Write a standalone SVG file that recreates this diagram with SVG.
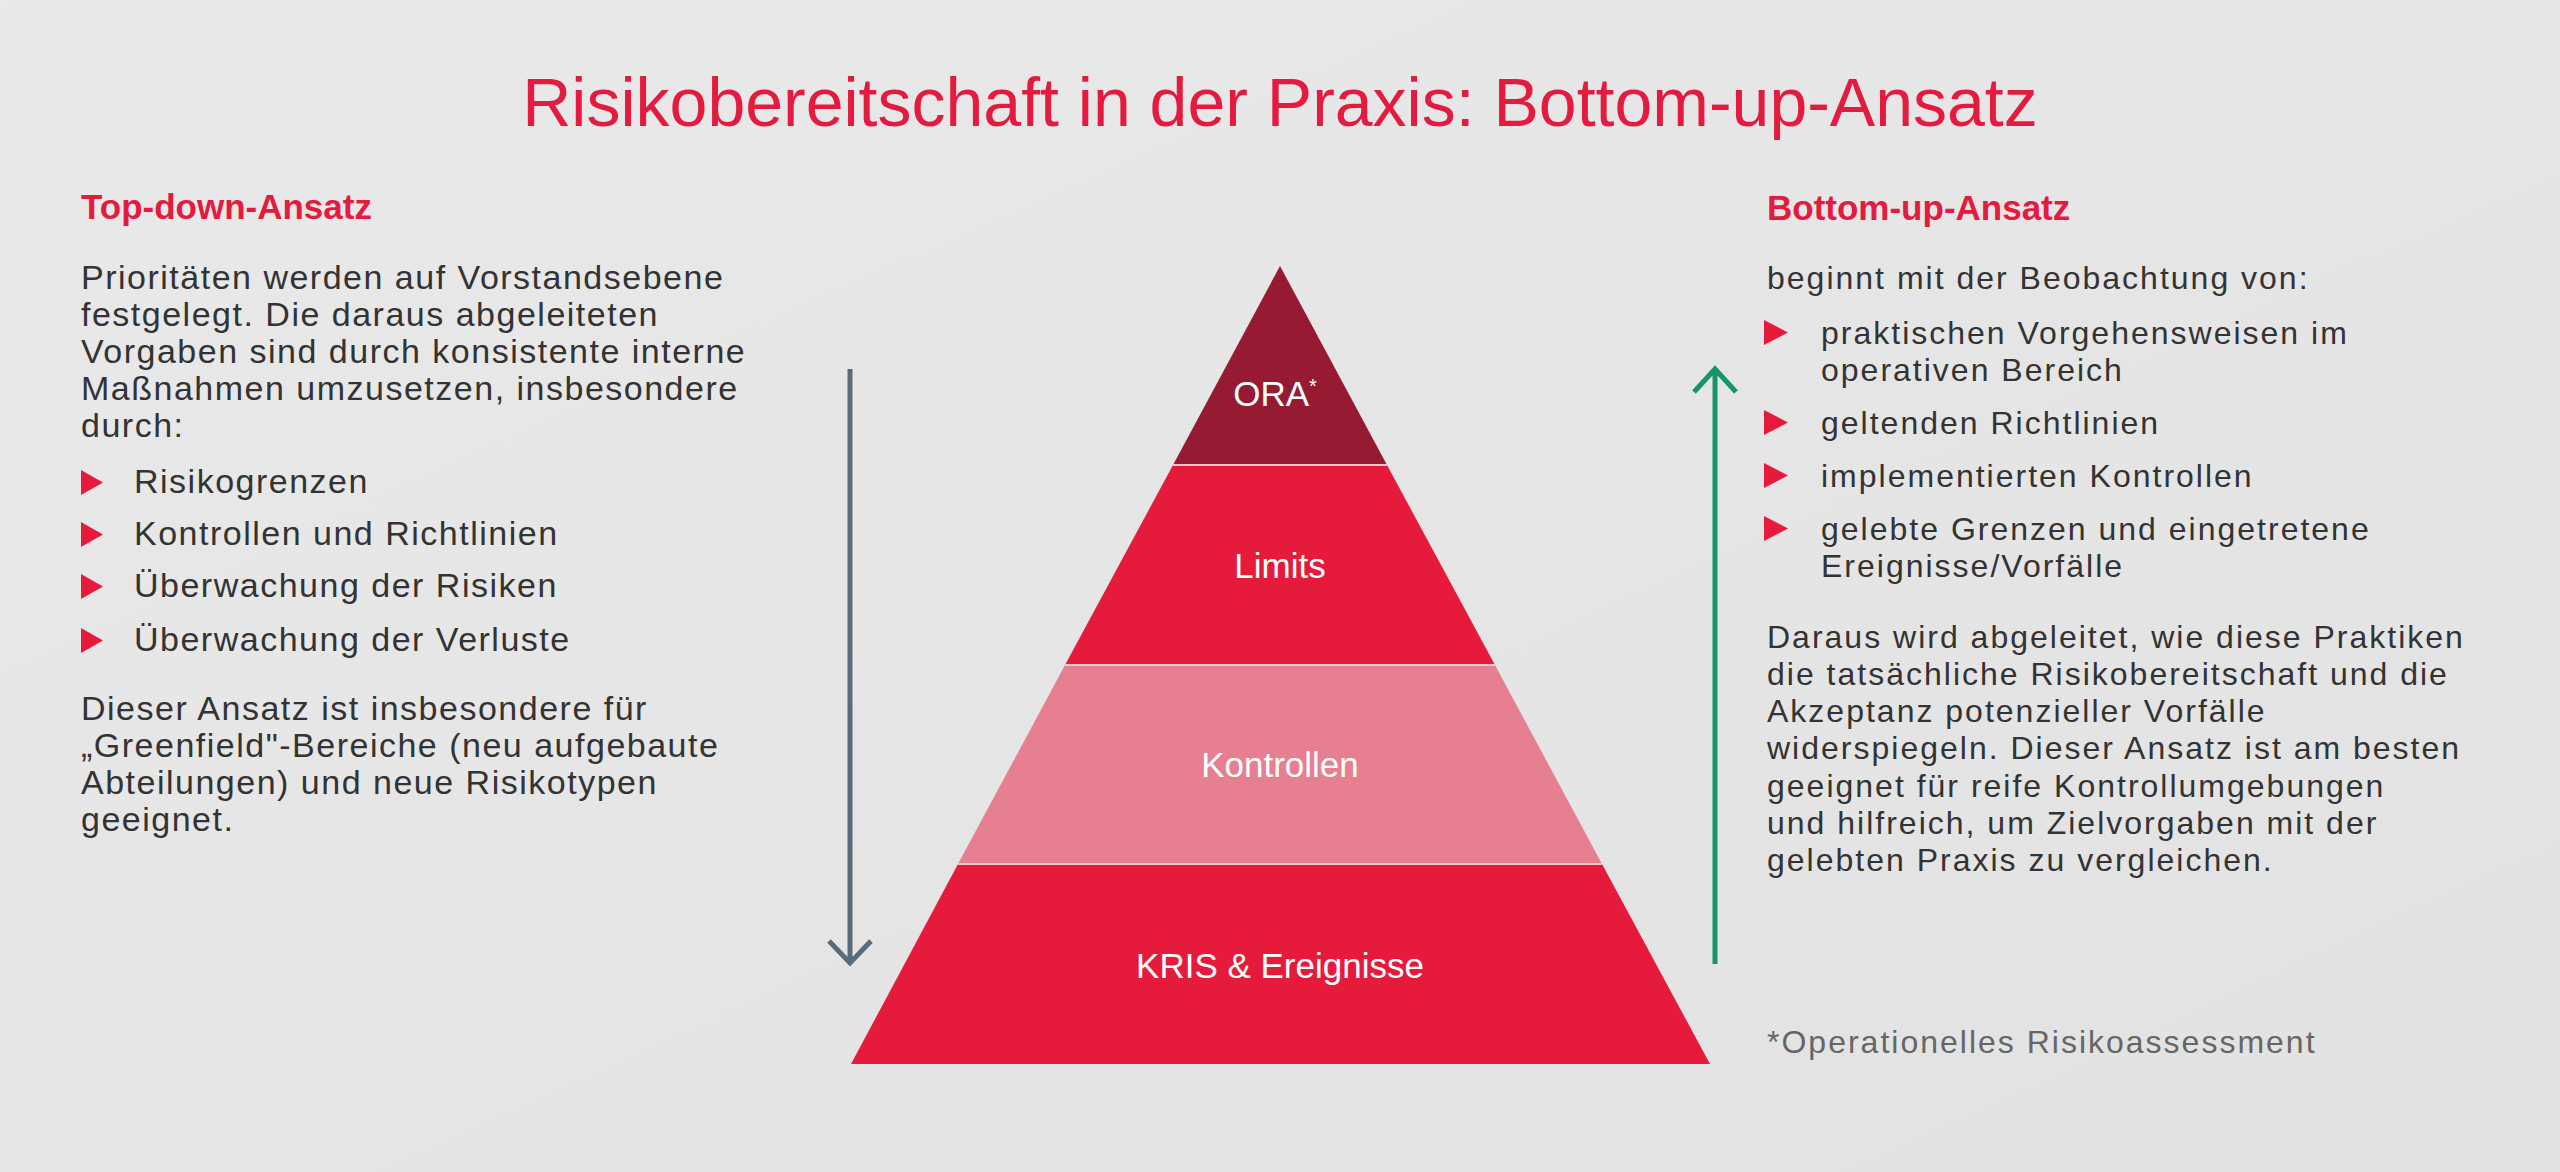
<svg xmlns="http://www.w3.org/2000/svg" width="2560" height="1172" viewBox="0 0 2560 1172">
<defs>
<linearGradient id="bg" x1="0" y1="0" x2="1" y2="1"><stop offset="0" stop-color="#e9e9e9"/><stop offset="1" stop-color="#e2e2e3"/></linearGradient>
<style>
.t{font-family:"Liberation Sans",Arial,sans-serif;fill:#333333;font-size:32px}
.l{font-size:34px;letter-spacing:1.5px}
.r{letter-spacing:2px}
.h{font-family:"Liberation Sans",Arial,sans-serif;fill:#e31b3e;font-weight:bold;font-size:35px}
.w{font-family:"Liberation Sans",Arial,sans-serif;fill:#ffffff;font-size:35px;text-anchor:middle}
.b{fill:#e61b3c}
</style>
</defs>
<rect width="2560" height="1172" fill="url(#bg)"/>
<text x="1280" y="126" text-anchor="middle" style="font-family:'Liberation Sans',Arial,sans-serif;font-size:68px;fill:#e31b3e">Risikobereitschaft in der Praxis: Bottom-up-Ansatz</text>
<g id="left">
<text class="h" x="81" y="219">Top-down-Ansatz</text>
<text class="t l" x="81" y="289">Prioritäten werden auf Vorstandsebene</text>
<text class="t l" x="81" y="326">festgelegt. Die daraus abgeleiteten</text>
<text class="t l" x="81" y="363">Vorgaben sind durch konsistente interne</text>
<text class="t l" x="81" y="400">Maßnahmen umzusetzen, insbesondere</text>
<text class="t l" x="81" y="437">durch:</text>
<path class="b" d="M81 470v25l22-12.5z"/><text class="t l" x="134" y="493">Risikogrenzen</text>
<path class="b" d="M81 522v25l22-12.5z"/><text class="t l" x="134" y="545">Kontrollen und Richtlinien</text>
<path class="b" d="M81 574v25l22-12.5z"/><text class="t l" x="134" y="597">Überwachung der Risiken</text>
<path class="b" d="M81 628v25l22-12.5z"/><text class="t l" x="134" y="651">Überwachung der Verluste</text>
<text class="t l" x="81" y="720">Dieser Ansatz ist insbesondere für</text>
<text class="t l" x="81" y="757">„Greenfield"-Bereiche (neu aufgebaute</text>
<text class="t l" x="81" y="794">Abteilungen) und neue Risikotypen</text>
<text class="t l" x="81" y="831">geeignet.</text>
</g>
<g id="pyramid">
<g id="ora"><path d="M1280 266L1387 465H1173z" fill="#961a32"/><text class="w" x="1275" y="406">ORA<tspan font-size="20" dy="-13">*</tspan></text></g>
<g id="limits"><path d="M1173 465H1387L1495 665H1065z" fill="#e61b3c"/><text class="w" x="1280" y="578">Limits</text></g>
<g id="kontrollen"><path d="M1065 665H1495L1602 864H958z" fill="#e67f8f"/><text class="w" x="1280" y="777">Kontrollen</text></g>
<g id="kris"><path d="M958 864H1602L1710 1064H851z" fill="#e61b3c"/><text class="w" x="1280" y="978">KRIS &amp; Ereignisse</text></g>
<path d="M1173 465H1387M1065 665H1495M958 864H1602" stroke="#f2c4cc" stroke-width="2" fill="none"/>
</g>
<g id="connectors" fill="none" stroke-width="5">
<path d="M850 369V962M829 941L850 963L871 941" stroke="#5a6b7a"/>
<path d="M1715 964V370M1694 392L1715 369L1736 392" stroke="#17956a"/>
</g>
<g id="right">
<text class="h" x="1767" y="220">Bottom-up-Ansatz</text>
<text class="t r" x="1767" y="289">beginnt mit der Beobachtung von:</text>
<path class="b" d="M1764 320v25l24-12.5z"/><text class="t r" x="1821" y="344">praktischen Vorgehensweisen im</text>
<text class="t r" x="1821" y="381">operativen Bereich</text>
<path class="b" d="M1764 410v25l24-12.5z"/><text class="t r" x="1821" y="434">geltenden Richtlinien</text>
<path class="b" d="M1764 463v25l24-12.5z"/><text class="t r" x="1821" y="487">implementierten Kontrollen</text>
<path class="b" d="M1764 516v25l24-12.5z"/><text class="t r" x="1821" y="540">gelebte Grenzen und eingetretene</text>
<text class="t r" x="1821" y="577">Ereignisse/Vorfälle</text>
<text class="t r" x="1767" y="648">Daraus wird abgeleitet, wie diese Praktiken</text>
<text class="t r" x="1767" y="685">die tatsächliche Risikobereitschaft und die</text>
<text class="t r" x="1767" y="722">Akzeptanz potenzieller Vorfälle</text>
<text class="t r" x="1767" y="759">widerspiegeln. Dieser Ansatz ist am besten</text>
<text class="t r" x="1767" y="797">geeignet für reife Kontrollumgebungen</text>
<text class="t r" x="1767" y="834">und hilfreich, um Zielvorgaben mit der</text>
<text class="t r" x="1767" y="871">gelebten Praxis zu vergleichen.</text>
<text class="t r" x="1767" y="1053" style="fill:#666666">*Operationelles Risikoassessment</text>
</g>
</svg>
